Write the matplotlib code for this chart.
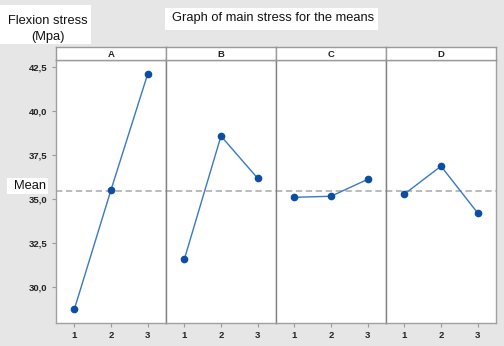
import matplotlib
matplotlib.use("Agg")
import matplotlib.pyplot as plt
from matplotlib.ticker import FuncFormatter
from matplotlib.patches import Rectangle

factors = ["A", "B", "C", "D"]
levels = [1, 2, 3]
means = {
    "A": [28.72, 35.50, 42.08],
    "B": [31.56, 38.56, 36.16],
    "C": [35.08, 35.14, 36.10],
    "D": [35.26, 36.85, 34.19],
}
grand_mean = 35.43
yticks = [30.0, 32.5, 35.0, 37.5, 40.0, 42.5]

W, H = 504, 346
fig = plt.figure(figsize=(W / 100, H / 100), dpi=100)
fig.patch.set_facecolor("#e6e6e6")
plt.rcParams["font.family"] = ["Liberation Sans", "DejaVu Sans"]

left_px, right_px, top_px, bot_px = 56, 496, 60, 323
strip_top = 47
pw = (right_px - left_px) / 4

line_col = "#3a78c4"
mk_col = "#0b4ea2"


def box(x0, y0, x1, y1):
    fig.patches.append(Rectangle((x0 / W, 1 - y1 / H), (x1 - x0) / W, (y1 - y0) / H,
                                 transform=fig.transFigure, facecolor="white",
                                 edgecolor="none", zorder=0))


axes = []
for i, f in enumerate(factors):
    x0 = (left_px + i * pw) / W
    ax = fig.add_axes([x0, 1 - bot_px / H, pw / W, (bot_px - top_px) / H])
    ax.set_facecolor("white")
    ax.plot(levels, means[f], color=line_col, lw=1.0, zorder=3)
    ax.plot(levels, means[f], 'o', color=mk_col, ms=4.5, zorder=4)
    ax.axhline(grand_mean, color="#b5b5b5", ls=(0, (3.5, 2)), lw=1.3, zorder=2)
    ax.set_xlim(0.5, 3.5)
    ax.set_ylim(27.94, 42.88)
    ax.set_xticks(levels)
    ax.set_xticklabels([str(l) for l in levels], fontsize=6.8, fontweight="bold", color="#222222")
    ax.tick_params(axis="x", length=3, width=0.8, color="#999999", pad=2.5)
    for s in ax.spines.values():
        s.set_color("#a0a0a0")
        s.set_linewidth(1.0)
    if i > 0:
        ax.spines["left"].set_color("#808080")
    if i == 0:
        ax.set_yticks(yticks)
        ax.yaxis.set_major_formatter(FuncFormatter(lambda v, p: f"{v:.1f}".replace(".", ",")))
        ax.tick_params(axis="y", length=3, width=0.8, color="#999999", labelsize=6.8, pad=3)
        for lab in ax.get_yticklabels():
            lab.set_fontweight("bold")
            lab.set_color("#222222")
    else:
        ax.set_yticks([])
    # strip
    sax = fig.add_axes([x0, 1 - top_px / H, pw / W, (top_px - strip_top) / H])
    sax.set_facecolor("white")
    sax.set_xticks([]); sax.set_yticks([])
    for s in sax.spines.values():
        s.set_color("#9a9a9a")
        s.set_linewidth(1.0)
    sax.text(0.5, 0.45, f, ha="center", va="center", fontsize=6.8, fontweight="bold",
             color="#222222", transform=sax.transAxes)
    axes.append(ax)

box(0, 5, 91, 44)
box(165, 8, 378, 30)
box(7, 178, 48, 194)

fig.text(48 / W, 1 - 29 / H, "Flexion stress\n(Mpa)", ha="center", va="center",
         fontsize=9.3, color="#111111", linespacing=1.45)
fig.text(273 / W, 1 - 18 / H, "Graph of main stress for the means", ha="center", va="center",
         fontsize=9.3, color="#111111")
fig.text(30 / W, 1 - 186 / H, "Mean", ha="center", va="center",
         fontsize=9.3, color="#111111")

fig.savefig("out.png", dpi=100, facecolor=fig.get_facecolor())
